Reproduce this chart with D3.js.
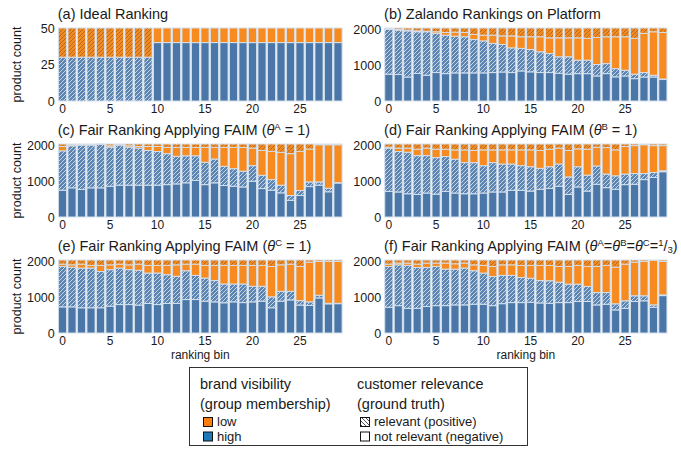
<!DOCTYPE html>
<html>
<head>
<meta charset="utf-8">
<script src="https://cdn.jsdelivr.net/npm/d3@7"></script>
<style>
body { margin: 0; background: #fff; }
text { font-family: "Liberation Sans", Arial, sans-serif; fill: #1a1a1a; }
</style>
</head>
<body>
<svg id="chart" width="681" height="449"></svg>
<script>
/*
	stacked bars of ranking bins: brand visibility x customer relevance
*/

var bins = d3.range(30);
var xTicks = [0, 5, 10, 15, 20, 25];
var binTotal = 2040;

// (a) ideal ranking, counts per segment
var idealHighNonRel = [0,0,0,0,0,0,0,0,0,0, 40,40,40,40,40,40,40,40,40,40, 40,40,40,40,40,40,40,40,40,40];
var idealHighRel    = [30,30,30,30,30,30,30,30,30,30, 0,0,0,0,0,0,0,0,0,0, 0,0,0,0,0,0,0,0,0,0];
var idealLowNonRel  = [0,0,0,0,0,0,0,0,0,0, 10,10,10,10,10,10,10,10,10,10, 10,10,10,10,10,10,10,10,10,10];
var idealLowRel     = [20,20,20,20,20,20,20,20,20,20, 0,0,0,0,0,0,0,0,0,0, 0,0,0,0,0,0,0,0,0,0];

// (b)-(f): cumulative heights
// cut1 = top of high/not relevant, cut2 = top of high/relevant, cut3 = top of low/not relevant
var zalCut1 = [750,740,670,770,720,795,765,785,785,785,785,795,810,795,840,815,795,795,775,750,765,765,700,765,675,700,625,670,670,600];
var zalCut2 = [2000,1980,1960,1935,1935,1890,1840,1810,1795,1720,1680,1610,1580,1485,1470,1440,1375,1325,1235,1235,1140,1140,1020,1045,905,860,750,795,720,615];
var zalCut3 = [2020,2000,1980,1960,1950,1935,1915,1925,1915,1860,1840,1840,1820,1820,1795,1795,1795,1765,1765,1765,1765,1750,1775,1795,1795,1795,1750,1890,1935,1915];

var faimACut1 = [750,815,770,815,815,860,890,890,890,890,890,905,925,955,1020,905,955,880,860,840,1000,795,750,675,465,600,850,890,705,950];
var faimACut2 = [1850,1990,2010,2010,2030,1950,2010,1950,1925,1860,1830,1770,1695,1710,1710,1530,1620,1415,1350,1280,1435,1165,1045,890,600,740,980,980,805,960];
var faimACut3 = [1970,2010,2025,2025,2035,1990,2030,1990,1970,1970,1970,1945,1945,1945,1945,1945,1945,1945,1945,1945,1925,1860,1835,1805,1770,1835,1900,2020,2020,2020];

var faimBCut1 = [715,700,650,630,670,640,715,670,650,650,670,700,700,745,745,725,775,800,860,630,840,725,915,820,775,905,915,1045,1105,1265];
var faimBCut2 = [1925,1830,1810,1715,1715,1660,1690,1615,1520,1520,1435,1520,1480,1480,1435,1405,1360,1405,1480,1120,1405,1170,1425,1200,1150,1200,1215,1215,1245,1290];
var faimBCut3 = [1950,1925,1925,1895,1925,1895,1895,1875,1875,1860,1875,1875,1875,1875,1875,1875,1860,1895,1925,1860,1905,1895,1950,1940,1875,1970,1995,2020,1995,1995];

var faimCCut1 = [730,730,705,705,705,750,795,795,780,825,795,825,825,935,935,890,870,845,870,850,870,890,705,890,925,780,770,980,815,820];
var faimCCut2 = [1860,1835,1815,1815,1720,1770,1815,1770,1750,1675,1675,1630,1585,1740,1610,1535,1465,1370,1370,1370,1305,1305,1010,1165,1165,905,870,1055,830,830];
var faimCCut3 = [1925,1905,1925,1890,1890,1905,1925,1905,1925,1890,1890,1890,1905,1925,1925,1890,1890,1890,1890,1890,1890,1890,1860,1905,1925,1860,1980,2000,2000,2000];

var faimAllCut1 = [720,765,690,690,740,765,765,785,785,805,805,765,820,850,850,860,840,830,850,850,880,880,785,805,645,690,880,900,720,1045];
var faimAllCut2 = [1860,1905,1890,1830,1830,1860,1785,1785,1815,1740,1675,1580,1610,1610,1550,1530,1465,1460,1420,1365,1365,1300,1130,1130,815,900,1040,1040,785,1065];
var faimAllCut3 = [1925,1955,1955,1925,1955,1955,1955,1935,1955,1905,1890,1860,1905,1905,1890,1890,1890,1890,1860,1860,1890,1860,1860,1890,1840,1925,1980,2000,2030,2000];

var keys = ["hn", "hr", "ln", "lr"];
var blue = "#4a77a8", orange = "#f78b1f";
var edgeCol = "#d3dfec";

var svg = d3.select("#chart");

//Hatch patterns
var defs = svg.append("defs");
function hatch(id, bg, fg, sw, dir) {
	var p = defs.append("pattern").attr("id", id)
		.attr("patternUnits", "userSpaceOnUse").attr("width", 4).attr("height", 4);
	p.append("rect").attr("width", 4).attr("height", 4).attr("fill", bg);
	p.append("path")
		.attr("d", dir > 0 ? "M-1,1 l2,-2 M0,4 l4,-4 M3,5 l2,-2" : "M-1,3 l2,2 M0,0 l4,4 M3,-1 l2,2")
		.attr("stroke", fg).attr("stroke-width", sw);
}
hatch("hBlue", "#5d85b2", "#c5d5e8", 1, 1);
hatch("hOrange", "#f28a22", "#b0651f", 0.9, 1);
hatch("hLegend", "#fff", "#222", 0.8, -1);

var fills = {hn: blue, hr: "url(#hBlue)", ln: orange, lr: "url(#hOrange)"};

function fromCuts(c1, c2, c3) {
	return bins.map(function(i) {
		return {hn: c1[i], hr: c2[i] - c1[i], ln: c3[i] - c2[i], lr: binTotal - c3[i]};
	});
}
function fromCounts(hn, hr, ln, lr) {
	return bins.map(function(i) { return {hn: hn[i], hr: hr[i], ln: ln[i], lr: lr[i]}; });
}

var panels = [
	{title: [{t: "(a) Ideal Ranking"}], rows: fromCounts(idealHighNonRel, idealHighRel, idealLowNonRel, idealLowRel), max: 50, yt: [0, 25, 50]},
	{title: [{t: "(b) Zalando Rankings on Platform"}], rows: fromCuts(zalCut1, zalCut2, zalCut3), max: binTotal, yt: [0, 1000, 2000]},
	{title: [{t: "(c) Fair Ranking Applying FAIM ("}, {t: "\u03b8", it: 1}, {t: "A", sup: 1}, {t: " = 1)"}], rows: fromCuts(faimACut1, faimACut2, faimACut3), max: binTotal, yt: [0, 1000, 2000]},
	{title: [{t: "(d) Fair Ranking Applying FAIM ("}, {t: "\u03b8", it: 1}, {t: "B", sup: 1}, {t: " = 1)"}], rows: fromCuts(faimBCut1, faimBCut2, faimBCut3), max: binTotal, yt: [0, 1000, 2000]},
	{title: [{t: "(e) Fair Ranking Applying FAIM ("}, {t: "\u03b8", it: 1}, {t: "C", sup: 1}, {t: " = 1)"}], rows: fromCuts(faimCCut1, faimCCut2, faimCCut3), max: binTotal, yt: [0, 1000, 2000]},
	{title: [{t: "(f) Fair Ranking Applying FAIM ("}, {t: "\u03b8", it: 1}, {t: "A", sup: 1}, {t: "="}, {t: "\u03b8", it: 1}, {t: "B", sup: 1}, {t: "="}, {t: "\u03b8", it: 1}, {t: "C", sup: 1}, {t: "="}, {t: "1", sup: 1}, {t: "/"}, {t: "3", sub: 1}, {t: ")"}], rows: fromCuts(faimAllCut1, faimAllCut2, faimAllCut3), max: binTotal, yt: [0, 1000, 2000]}
];

var colX = [[57.75, 342.75], [384.1, 667.6]];

panels.forEach(function(p, k) {
	var col = k % 2, row = Math.floor(k / 2);
	var yb = 101 + row * 116, ytop = 28 + row * 116;
	var x = d3.scaleBand().domain(bins).range(colX[col]).paddingInner(0.14).paddingOuter(0.07);
	var y = d3.scaleLinear().domain([0, p.max]).range([yb, ytop]);
	var g = svg.append("g");

	var series = d3.stack().keys(keys)(p.rows);
	g.selectAll("g.seg").data(series).join("g")
		.attr("class", "seg")
		.attr("fill", function(d) { return fills[d.key]; })
		.selectAll("rect").data(function(d) { return d; }).join("rect")
		.attr("x", function(d, i) { return x(i); })
		.attr("width", x.bandwidth())
		.attr("y", function(d) { return y(d[1]); })
		.attr("height", function(d) { return y(d[0]) - y(d[1]); })
		.attr("stroke", function(d) { return d[1] > d[0] ? edgeCol : "none"; })
		.attr("stroke-width", 1);

	var xa = g.append("g").attr("transform", "translate(0," + yb + ")")
		.call(d3.axisBottom(x).tickValues(xTicks).tickSize(0).tickPadding(3));
	xa.select(".domain").remove();
	xa.selectAll("text").style("font-size", "12px").style("fill", "#1a1a1a");

	var ya = g.append("g").attr("transform", "translate(" + (colX[col][0] - 1) + ",0)")
		.call(d3.axisLeft(y).tickValues(p.yt).tickFormat(d3.format("d")).tickSize(0).tickPadding(2));
	ya.select(".domain").remove();
	ya.selectAll("text").style("font-size", "12.5px").style("fill", "#1a1a1a");

	//title with theta superscripts
	var tt = g.append("text").attr("x", colX[col][0]).attr("y", 19 + row * 116).style("font-size", "14.5px");
	var shift = 0;
	p.title.forEach(function(s) {
		var want = s.sup ? -5 : (s.sub ? 2 : 0);
		var ts = tt.append("tspan").text(s.t).attr("dy", want - shift);
		shift = want;
		if (s.it) ts.style("font-style", "italic");
		if (s.sup || s.sub) ts.style("font-size", "9.5px");
	});

	if (col === 0) {
		g.append("text")
			.attr("transform", "translate(21," + ((yb + ytop) / 2) + ") rotate(-90)")
			.attr("text-anchor", "middle")
			.style("font-size", "12.5px")
			.text("product count");
	}
	if (row === 2) {
		g.append("text")
			.attr("x", (colX[col][0] + colX[col][1]) / 2).attr("y", 359)
			.attr("text-anchor", "middle")
			.style("font-size", "12px")
			.text("ranking bin");
	}
});

/*
	Legend
*/
var lg = svg.append("g");
lg.append("rect").attr("x", 189.5).attr("y", 367.5).attr("width", 338).attr("height", 78)
	.attr("fill", "#fff").attr("stroke", "#333").attr("stroke-width", 1);

var legendCols = [
	{x: 200, head: ["brand visibility", "(group membership)"],
	 items: [{fill: "#ff7f0e", label: "low"}, {fill: "#1f77b4", label: "high"}]},
	{x: 357, head: ["customer relevance", "(ground truth)"],
	 items: [{fill: "url(#hLegend)", label: "relevant (positive)"}, {fill: "#fff", label: "not relevant (negative)"}]}
];
legendCols.forEach(function(c) {
	c.head.forEach(function(h, i) {
		lg.append("text").attr("x", c.x).attr("y", 389 + i * 20).style("font-size", "14.5px").text(h);
	});
	c.items.forEach(function(it, i) {
		lg.append("rect").attr("x", c.x + 3.5).attr("y", 417.5 + i * 14.5).attr("width", 9).attr("height", 9)
			.attr("fill", it.fill).attr("stroke", "#111").attr("stroke-width", 1);
		lg.append("text").attr("x", c.x + 17).attr("y", 426 + i * 14.5).style("font-size", "13px").text(it.label);
	});
});
</script>
</body>
</html>
